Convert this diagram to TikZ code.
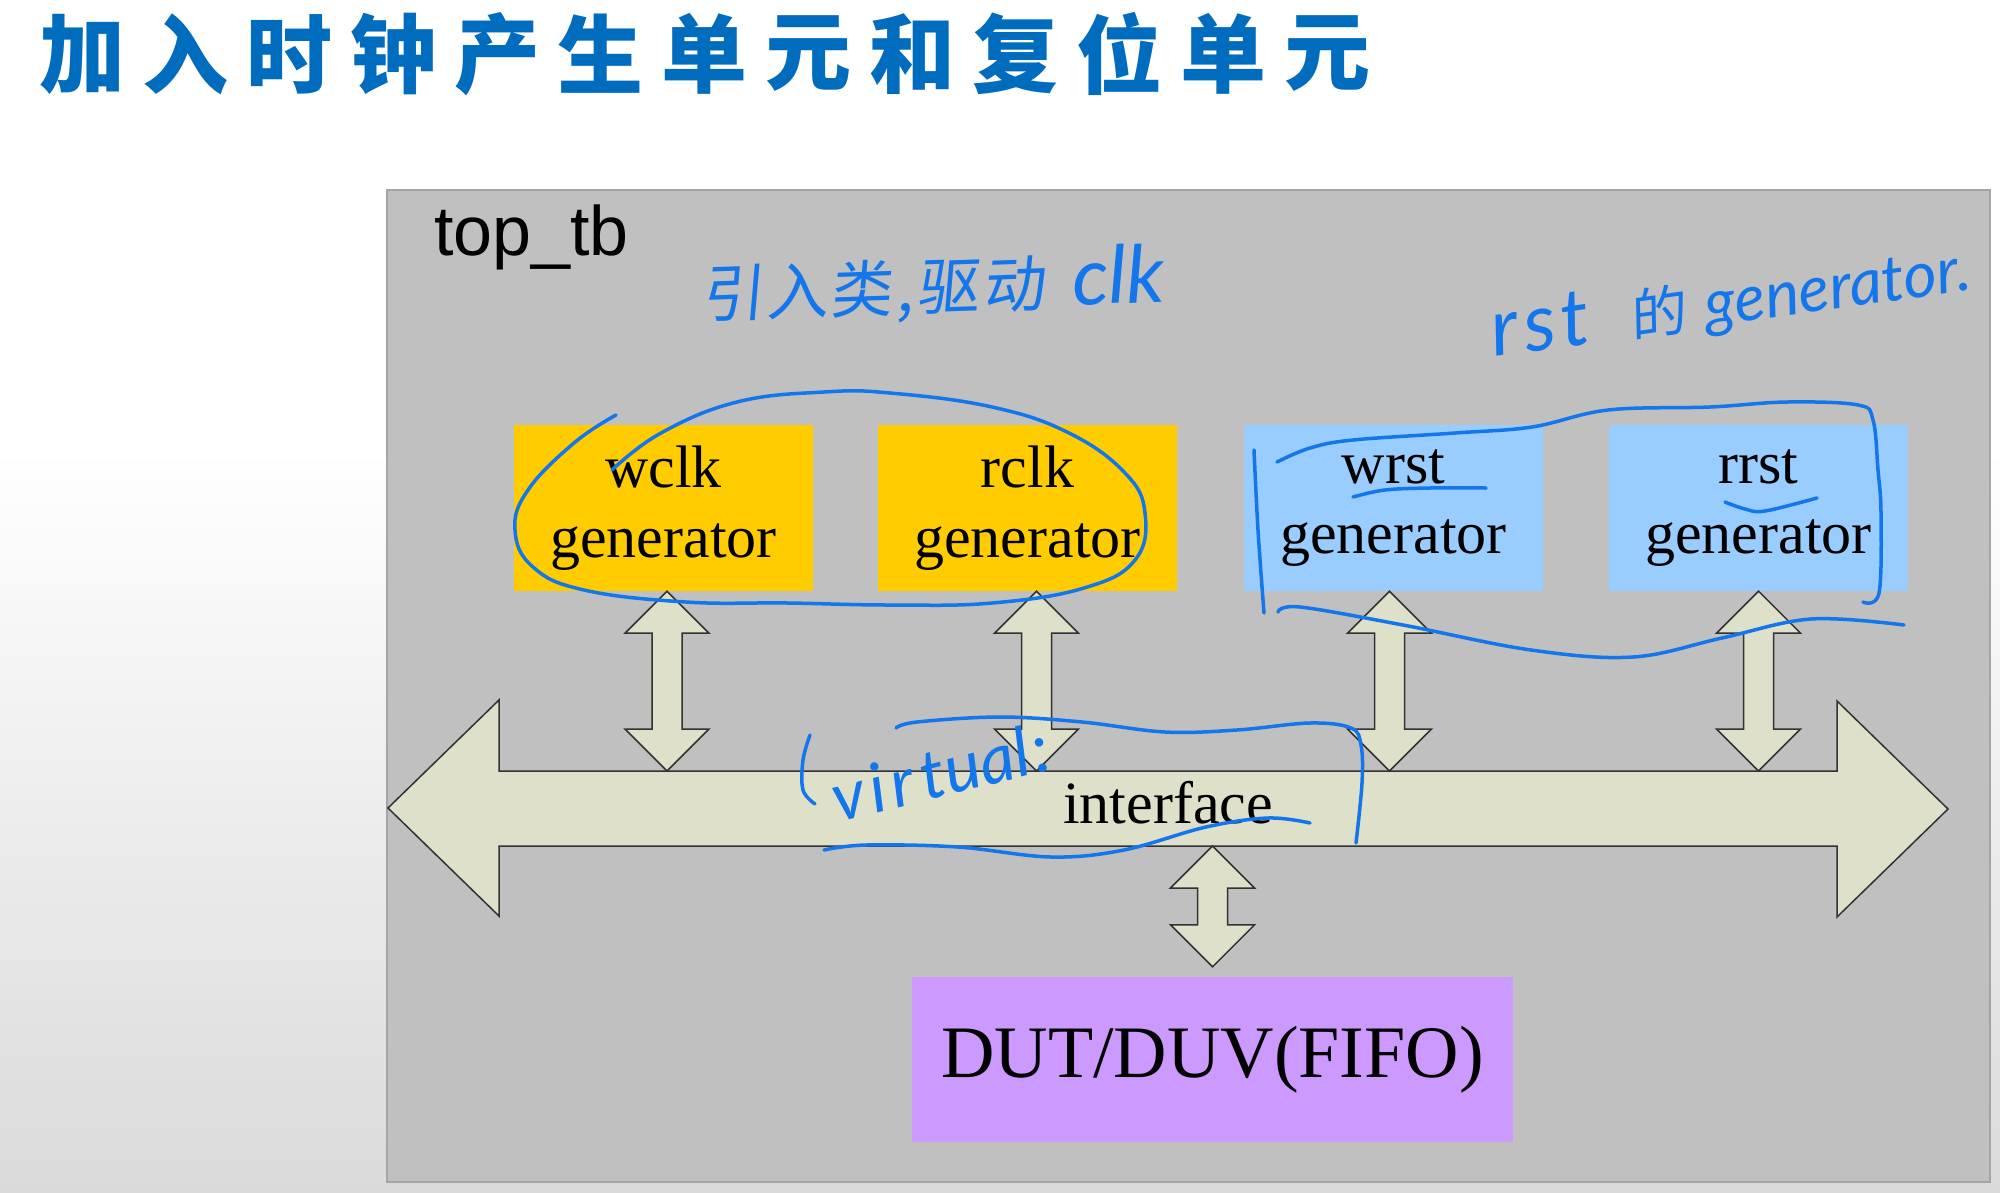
\documentclass[tikz,border=0pt]{standalone}
\usepackage{fontspec}
\setmainfont{Liberation Serif}
\newfontfamily\arialfont{Liberation Sans}
\newfontfamily\cjkfont{Noto Sans CJK SC}
\newfontfamily\cjkhand{Noto Sans CJK SC}[FakeSlant=0.12]
\newfontfamily\handfont{Lato}
\usetikzlibrary{calc}
\definecolor{titleblue}{RGB}{0,108,190}
\definecolor{handblue}{RGB}{20,118,235}
\definecolor{panelgray}{RGB}{192,192,192}
\definecolor{panelline}{RGB}{165,165,165}
\definecolor{clkyellow}{RGB}{255,204,0}
\definecolor{rstblue}{RGB}{153,204,255}
\definecolor{dutpurple}{RGB}{204,153,255}
\definecolor{arrowfill}{RGB}{222,224,202}
\definecolor{arrowline}{RGB}{50,50,50}
\definecolor{bggray}{RGB}{218,218,218}
\tikzset{
  genbox/.style={rectangle, minimum width=299pt, minimum height=166pt, inner sep=0pt, align=center, font=\fontsize{60}{70}\selectfont},
  clkbox/.style={genbox, fill=clkyellow},
  rstbox/.style={genbox, fill=rstblue},
  panel/.style={rectangle, fill=panelgray, draw=panelline, line width=2pt, minimum width=1603pt, minimum height=992pt, inner sep=0pt},
  arrowshape/.style={fill=arrowfill, draw=arrowline, line width=1.5pt, line join=miter},
  hand/.style={draw=handblue, line width=3.5pt, line cap=round, line join=round},
  handtext/.style={text=handblue, inner sep=0pt},
  titlechar/.style={text=titleblue, font=\cjkfont\bfseries\fontsize{86}{86}\selectfont, inner sep=0pt},
}
\newcommand\dblarr[2]{%
  \draw[arrowshape] let \p1=(#1), \p2=(#2) in
    (\x1,\y1) -- (\x1+42pt,\y1-42pt) -- (\x1+15pt,\y1-42pt) -- (\x1+15pt,\y2+42pt)
    -- (\x1+42pt,\y2+42pt) -- (\x1,\y2) -- (\x1-42pt,\y2+42pt) -- (\x1-15pt,\y2+42pt)
    -- (\x1-15pt,\y1-42pt) -- (\x1-42pt,\y1-42pt) -- cycle;}
\begin{document}
\begin{tikzpicture}[x=1pt,y=-1pt]
\useasboundingbox (0,0) rectangle (2000,1192);
% background
\fill[white] (0,0) rectangle (2000,1192);
\shade[top color=white, bottom color=bggray] (0,450) rectangle (2000,1192);
% title
\foreach \c [count=\i from 0] in {加,入,时,钟,产,生,单,元,和,复,位,单,元} {
  \node[titlechar] (title\i) at ({82+\i*103.75},54) {\c};
}
% panel
\node[panel] (tb) at (1188.5,686) {};
\node[anchor=base west, inner sep=0pt, font=\arialfont\fontsize{70}{70}\selectfont] (tbname) at (434,255) {top\_tb};
% generator boxes
\node[clkbox] (wclk) at (663.5,508) {wclk\\generator};
\node[clkbox] (rclk) at (1027.5,508) {rclk\\generator};
\node[rstbox] (wrst) at (1393.5,508) {wrst\\generator};
\node[rstbox] (rrst) at (1758.5,508) {rrst\\generator};
% DUT
\node[fill=dutpurple, minimum width=601pt, minimum height=165pt, inner sep=0pt, font=\fontsize{74}{74}\selectfont] (dut) at (1212.5,1059.5) {DUT/DUV(FIFO)};
% interface bus
\coordinate (busTop) at (1168,771);
\coordinate (busBot) at (1168,846);
\draw[arrowshape] (388,808) -- (499,700) -- (499,771) -- (1837,771) -- (1837,701)
  -- (1948,809) -- (1837,917) -- (1837,846) -- (499,846) -- (499,916) -- cycle;
\node[anchor=base, inner sep=0pt, font=\fontsize{60}{60}\selectfont] (iface) at (1168,823) {interface};
% connectors
\dblarr{[xshift=3.5pt]wclk.south}{busTop}
\dblarr{[xshift=9pt]rclk.south}{busTop}
\dblarr{[xshift=-4pt]wrst.south}{busTop}
\dblarr{rrst.south}{busTop}
\dblarr{dut.north |- busBot}{[yshift=10pt]dut.north}
% handwritten annotations
\node[handtext, anchor=base west, rotate=2] (note1) at (702,318)
  {{\cjkhand\fontsize{62}{62}\selectfont 引\hspace{2pt}入\hspace{2pt}类\hspace{4pt},\hspace{4pt}驱\hspace{4pt}动}\hspace{28pt}{\handfont\itshape\fontsize{80}{80}\selectfont clk}};
\node[handtext, anchor=base west, rotate=8] (note2) at (1494,357)
  {{\handfont\itshape\fontsize{80}{80}\selectfont r\hspace{6pt}s\hspace{6pt}t}\hspace{40pt}{\cjkhand\fontsize{56}{56}\selectfont 的}\hspace{20pt}{\handfont\itshape\fontsize{64}{64}\selectfont generator.}};
\node[handtext, anchor=base west, rotate=14] (note3) at (838,823)
  {\handfont\itshape\fontsize{68}{68}\selectfont v\hspace{6pt}i\hspace{6pt}r\hspace{8pt}tual\hspace{4pt}:};
% loop round the clock generators
\draw[hand] plot[smooth, tension=0.7] coordinates {(616,415) (574,443) (528,490) (515,530) (533,567) (584,590) (686,602) (788,603) (890,605) (992,603) (1084,588) (1135,560) (1145,513) (1125,473) (1069,433) (992,407) (890,393) (824,392) (737,402) (661,433) (612,470)};
% bracket round the reset generators
\draw[hand] plot[smooth, tension=0.6] coordinates {(1254,450) (1258,530) (1264,613)};
\draw[hand] plot[smooth, tension=0.6] coordinates {(1277,462) (1310,448) (1353,440) (1455,433) (1532,427) (1608,410) (1710,407) (1787,402) (1858,405) (1873,420) (1878,470) (1881,513) (1879,593) (1863,602)};
\draw[hand] plot[smooth, tension=0.6] coordinates {(1278,612) (1300,607) (1403,625) (1531,650) (1633,657) (1722,638) (1811,619) (1904,625)};
\draw[hand] plot[smooth, tension=0.6] coordinates {(1353,497) (1385,490) (1430,488) (1486,488)};
\draw[hand] plot[smooth, tension=0.6] coordinates {(1725,502) (1745,509) (1765,511) (1817,498)};
% marks round the interface
\draw[hand] plot[smooth, tension=0.6] coordinates {(810,735) (803,760) (803,790) (815,804)};
\draw[hand] plot[smooth, tension=0.6] coordinates {(896,728) (917,722) (1000,717) (1082,722) (1165,732) (1237,730) (1310,723) (1351,728) (1361,745) (1362,783) (1356,843)};
\draw[hand] plot[smooth, tension=0.6] coordinates {(824,850) (866,845) (958,847) (1051,857) (1124,850) (1206,827) (1268,818) (1310,823)};
\end{tikzpicture}
\end{document}
